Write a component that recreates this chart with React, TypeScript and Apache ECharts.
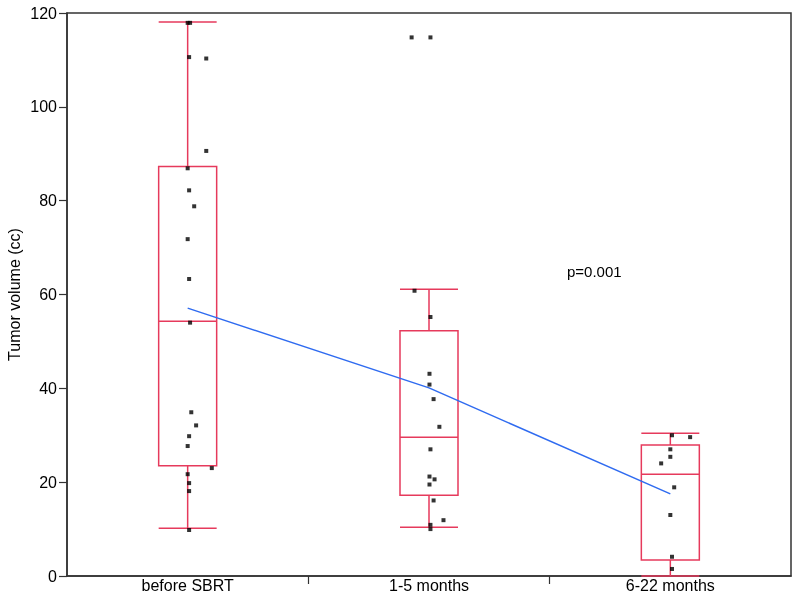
import React, { useEffect, useRef } from "react";
import * as echarts from "echarts";

const categories = ["before SBRT", "1-5 months", "6-22 months"];
const yTicks = { min: 0, max: 120, interval: 20 };
const categoryBoundaries = [1, 2];

// box stats: [min, Q1, median, Q3, max]
const boxStats = [
  [10.2, 23.5, 54.3, 87.3, 118.1],
  [10.4, 17.2, 29.6, 52.3, 61.1],
  [0, 3.4, 21.7, 27.9, 30.4],
];

// group means (blue line)
const means = [57.1, 40.1, 17.5];

// individual observations and their horizontal jitter (in category units)
const g1Values = [117.9, 117.9, 110.6, 110.3, 90.6, 86.9, 82.2, 78.8, 71.8, 63.3, 54.0, 34.9, 32.1, 29.8, 27.7, 23.0, 21.7, 19.8, 18.1, 9.8];
const g1Jitter = [0, 0.01, 0.006, 0.077, 0.077, 0, 0.006, 0.027, 0, 0.006, 0.01, 0.015, 0.035, 0.006, 0, 0.1, 0, 0.006, 0.006, 0.006];
const g2Values = [114.8, 114.8, 60.8, 55.2, 43.1, 40.8, 37.7, 31.8, 27.0, 21.2, 20.6, 19.5, 16.1, 11.9, 10.9, 10.0];
const g2Jitter = [-0.072, 0.006, -0.06, 0.006, 0.002, 0.002, 0.019, 0.043, 0.006, 0.002, 0.023, 0.002, 0.019, 0.06, 0.006, 0.006];
const g3Values = [30.0, 29.6, 27.0, 25.4, 24.0, 18.9, 13.0, 4.1, 1.5];
const g3Jitter = [0.007, 0.082, 0, 0, -0.038, 0.016, 0, 0.007, 0.007];

const pValueText = "p=0.001";

export default function App() {
  const ref = useRef<HTMLDivElement>(null);
  useEffect(() => {
    if (!ref.current) return;
    const chart = echarts.init(ref.current, null, { renderer: "svg" });
    const font = "Liberation Sans";
    const groups = [
      [g1Values, g1Jitter],
      [g2Values, g2Jitter],
      [g3Values, g3Jitter],
    ];
    const points: number[][] = [];
    groups.forEach(([vals, jit], gi) => {
      vals.forEach((v, i) => points.push([gi + 0.5 + jit[i], v]));
    });
    const red = "#e63a5c";
    chart.setOption({
      animation: false,
      textStyle: { fontFamily: font },
      grid: {
        left: 67,
        right: 9,
        top: 13,
        bottom: 24,
        outerBoundsMode: "none",
        containLabel: false,
        show: true,
        borderColor: "#333",
        borderWidth: 1.5,
        backgroundColor: "transparent",
      },
      xAxis: [
        {
          type: "category",
          data: categories,
          axisLine: { lineStyle: { color: "#333", width: 1.5 } },
          axisTick: { show: false },
          axisLabel: { color: "#000", fontSize: 16, margin: 1, fontFamily: font },
          splitLine: { show: false },
        },
        {
          type: "value",
          min: 0,
          max: 3,
          position: "bottom",
          axisLine: { show: false },
          axisLabel: { show: false },
          axisTick: {
            show: true,
            length: 8,
            customValues: categoryBoundaries,
            lineStyle: { color: "#333", width: 1.2 },
          },
          splitLine: { show: false },
        },
      ],
      yAxis: {
        type: "value",
        min: yTicks.min,
        max: yTicks.max,
        interval: yTicks.interval,
        name: "Tumor volume (cc)",
        nameLocation: "middle",
        nameGap: 45,
        nameMoveOverlap: false,
        nameTextStyle: { color: "#000", fontSize: 16, fontFamily: font },
        axisLine: { show: true, lineStyle: { color: "#333", width: 1.5 } },
        axisTick: { show: true, length: 8, lineStyle: { color: "#333", width: 1.2 } },
        axisLabel: { color: "#000", fontSize: 16, margin: 10, fontFamily: font },
        splitLine: { show: false },
      },
      series: [
        {
          type: "boxplot",
          xAxisIndex: 0,
          data: boxStats,
          boxWidth: [58, 58],
          itemStyle: { color: "transparent", borderColor: red, borderWidth: 1.5 },
        },
        {
          type: "line",
          xAxisIndex: 1,
          data: means.map((m, i) => [i + 0.5, m]),
          symbol: "none",
          lineStyle: { color: "#2f6bf0", width: 1.5 },
          z: 3,
        },
        {
          type: "scatter",
          xAxisIndex: 1,
          data: points,
          symbol: "rect",
          symbolSize: 4,
          itemStyle: { color: "#000" },
          z: 4,
        },
      ],
      graphic: [
        {
          type: "text",
          left: 567,
          top: 264,
          style: { text: pValueText, fontSize: 15, fill: "#000", fontFamily: font },
        },
      ],
    });
    return () => chart.dispose();
  }, []);
  return (
    <div
      ref={ref}
      style={{ position: "fixed", left: 0, top: 0, width: 800, height: 600 }}
    />
  );
}
